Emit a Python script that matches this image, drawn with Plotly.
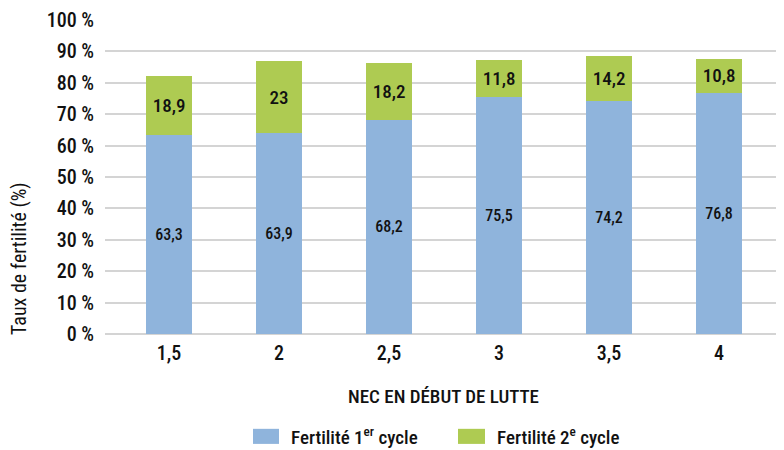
import plotly.graph_objects as go

categories = ["1,5", "2", "2,5", "3", "3,5", "4"]
cycle1 = [63.3, 63.9, 68.2, 75.5, 74.2, 76.8]
cycle2 = [18.9, 23, 18.2, 11.8, 14.2, 10.8]
cycle1_labels = ["63,3", "63,9", "68,2", "75,5", "74,2", "76,8"]
cycle2_labels = ["18,9", "23", "18,2", "11,8", "14,2", "10,8"]
y_ticks = [0, 10, 20, 30, 40, 50, 60, 70, 80, 90, 100]
y_ticklabels = [f"{v} %" for v in y_ticks]
series_names = ["Fertilité 1<sup>er</sup> cycle", "Fertilité 2<sup>e</sup> cycle"]

FONT = "Roboto Condensed, Liberation Sans Narrow, Roboto, sans-serif"
BLUE = "#8FB4DC"
GREEN = "#AECB52"
INK = "#111111"
W = 500

fig = go.Figure()
fig.add_trace(go.Bar(
    x=categories, y=cycle1, name=series_names[0],
    marker=dict(color=BLUE, line=dict(width=0)),
    text=cycle1_labels, textposition="inside", insidetextanchor="middle",
    textangle=0, constraintext="none",
    textfont=dict(family=FONT, size=16, color=INK, weight=W), width=0.42,
))
fig.add_trace(go.Bar(
    x=categories, y=cycle2, name=series_names[1],
    marker=dict(color=GREEN, line=dict(width=0)),
    text=cycle2_labels, textposition="inside", insidetextanchor="middle",
    textangle=0, constraintext="none",
    textfont=dict(family=FONT, size=19, color=INK, weight=W), width=0.42,
))

# manual legend (paper coordinates, below plot)
shapes = []
annotations = []
for (x0, x1, tx), name, col in zip(
        [(0.2154, 0.2533, 0.2678), (0.5138, 0.5531, 0.5677)], series_names, [BLUE, GREEN]):
    shapes.append(dict(type="rect", xref="paper", yref="paper",
                       x0=x0, x1=x1, y0=-0.35, y1=-0.302,
                       fillcolor=col, line=dict(width=0)))
    annotations.append(dict(text=name, xref="paper", yref="paper", x=tx, y=-0.326,
                            xanchor="left", yanchor="middle", showarrow=False,
                            font=dict(size=19, color=INK, weight=W)))

annotations.append(dict(
    text="Taux de fertilité (%)", textangle=-90,
    xref="paper", yref="paper", x=-0.1252, y=0.242,
    xanchor="center", yanchor="middle", showarrow=False,
    font=dict(size=20, color=INK),
))
annotations.append(dict(
    text="NEC EN DÉBUT DE LUTTE",
    xref="paper", yref="paper", x=0.4934, y=-0.2,
    xanchor="center", yanchor="middle", showarrow=False,
    font=dict(size=19, color=INK, weight=W),
))

fig.update_layout(
    barmode="stack",
    width=784, height=450,
    margin=dict(l=97, r=0, t=12, b=124, autoexpand=False),
    paper_bgcolor="white", plot_bgcolor="white",
    font=dict(family=FONT, size=20, color=INK),
    showlegend=False,
    xaxis=dict(
        type="category", range=[-0.582, 5.663],
        showgrid=False, showline=False, zeroline=False, automargin=False,
        ticks="", tickfont=dict(size=20, weight=W), ticklabelstandoff=5,
    ),
    yaxis=dict(
        range=[0, 100], tickvals=y_ticks, ticktext=y_ticklabels,
        showgrid=True, gridcolor="#D4D4D4", gridwidth=2,
        zeroline=True, zerolinecolor="#D4D4D4", zerolinewidth=2,
        showline=False, ticks="", ticklabelstandoff=10, automargin=False,
        tickfont=dict(size=20, weight=W),
    ),
    shapes=shapes,
    annotations=annotations,
)

fig.write_html("out.html")
